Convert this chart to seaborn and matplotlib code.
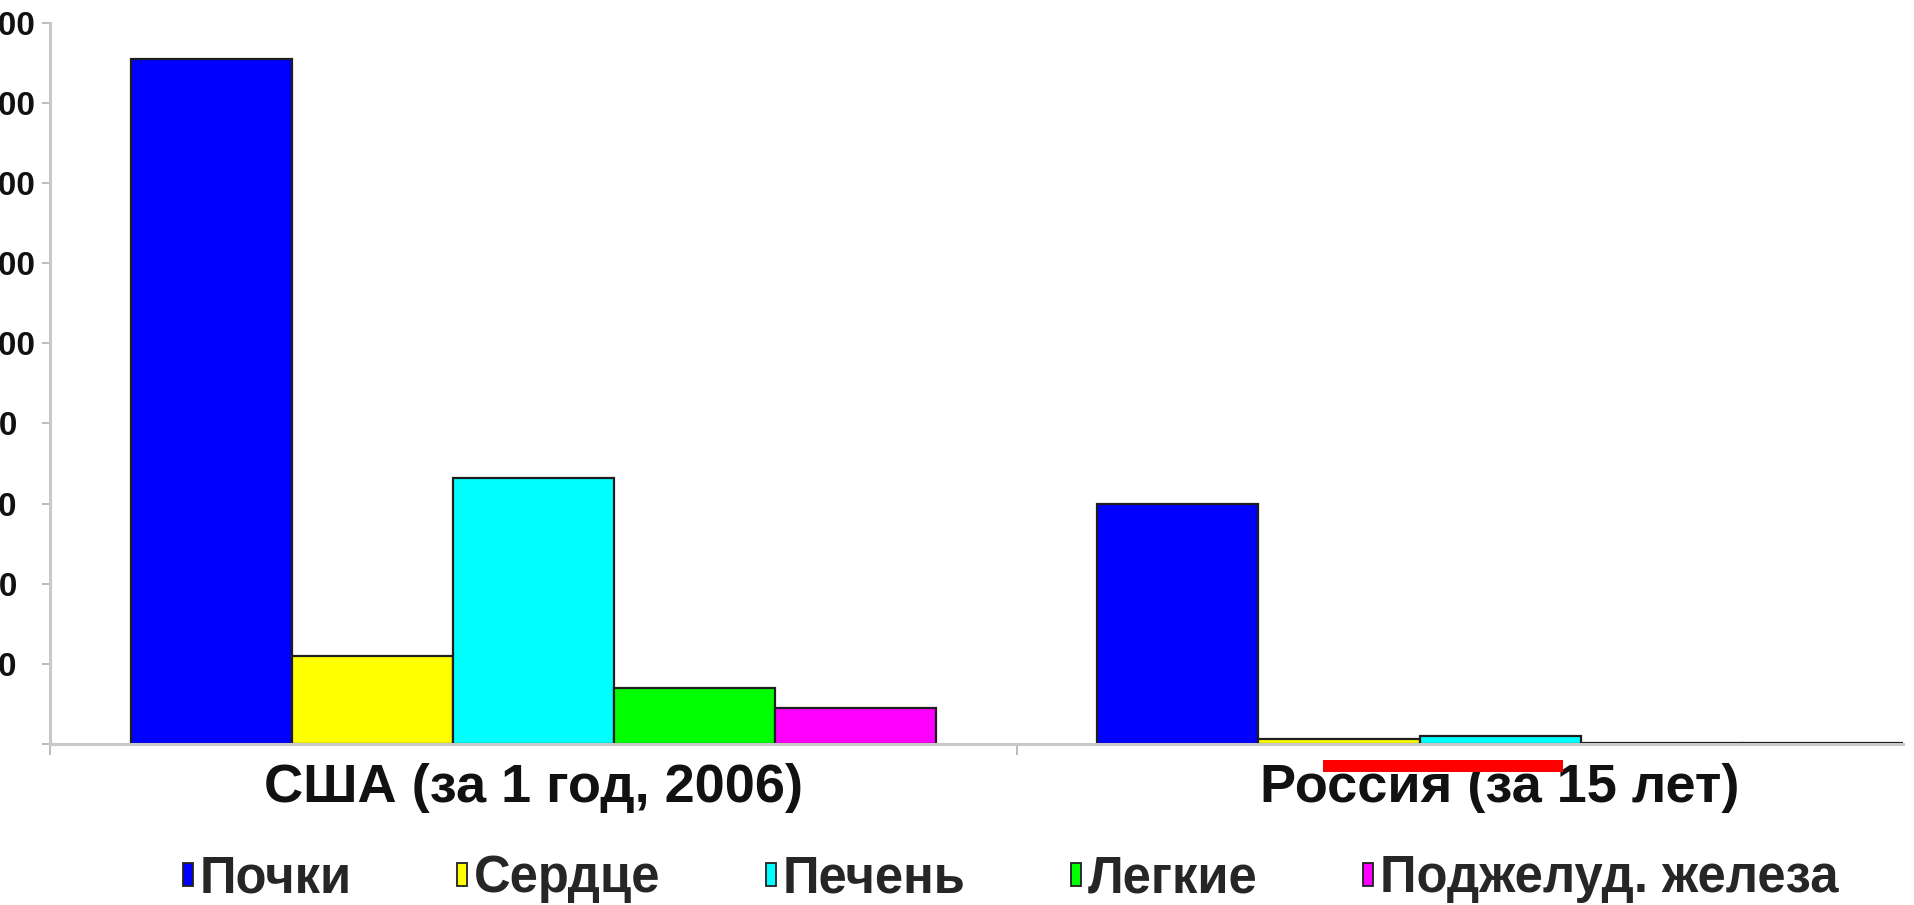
import matplotlib
matplotlib.use("Agg")
import matplotlib.pyplot as plt
from matplotlib.patches import Rectangle, Patch
import seaborn as sns
import pandas as pd

# Data: organ transplants, USA (one year, 2006) vs Russia (15 years)
countries = ["США (за 1 год, 2006)", "Россия (за 15 лет)"]
organs = ["Почки", "Сердце", "Печень", "Легкие", "Поджелуд. железа"]
usa_values = [17100, 2200, 6650, 1400, 900]
russia_values = [6000, 130, 210, 20, 20]
organ_colors = ["#0000FF", "#FFFF00", "#00FFFF", "#00FF00", "#FF00FF"]
y_ticks = [0, 2000, 4000, 6000, 8000, 10000, 12000, 14000, 16000, 18000]
y_tick_labels = [str(v) for v in y_ticks]

rows = []
for country, values in zip(countries, [usa_values, russia_values]):
    for organ, v in zip(organs, values):
        rows.append({"country": country, "organ": organ, "count": v})
df = pd.DataFrame(rows)

sns.set_theme(style="white")
plt.rcParams["font.family"] = ["Liberation Sans", "DejaVu Sans"]
plt.rcParams["font.weight"] = "bold"

W, H, DPI = 1915, 905, 100
fig = plt.figure(figsize=(W / DPI, H / DPI), dpi=DPI)
left_px, right_px, top_px, bottom_px = 50, 1903, 22.7, 744
ax = fig.add_axes([left_px / W, (H - bottom_px) / H,
                   (right_px - left_px) / W, (bottom_px - top_px) / H])

sns.barplot(data=df, x="country", y="count", hue="organ",
            order=countries, hue_order=organs, palette=organ_colors,
            width=5 / 6, gap=0, errorbar=None, edgecolor="#1e1e1e",
            linewidth=1.6, saturation=1, ax=ax)

ax.set_xlim(-0.5, 1 + 5 / 12)
ax.set_ylim(0, 18000)
ax.set_xlabel("")
ax.set_ylabel("")

for side in ["top", "right"]:
    ax.spines[side].set_visible(False)
for side in ["left", "bottom"]:
    ax.spines[side].set_color("#c8c8c8")
    ax.spines[side].set_linewidth(2.2)

# y axis: left-aligned labels pushed past the left edge
ax.set_yticks(y_ticks)
ax.set_yticklabels(y_tick_labels)
ax.tick_params(axis="y", which="major", direction="out", length=6,
               width=1.2, color="#b0b0b0", pad=71, labelsize=24, left=True)
for lbl in ax.get_yticklabels():
    lbl.set_horizontalalignment("left")
    lbl.set_fontweight("bold")
    lbl.set_color("#111111")

# x axis: category names centred, tick marks on category boundaries
ax.set_xticks([0, 1])
ax.set_xticklabels(countries)
ax.set_xticks([-0.5, 0.5], minor=True)
ax.tick_params(axis="x", which="major", length=0, pad=14, labelsize=39)
ax.tick_params(axis="x", which="minor", direction="out", length=8,
               width=1.2, color="#b0b0b0", bottom=True)
for lbl in ax.get_xticklabels():
    lbl.set_fontweight("bold")
    lbl.set_color("#111111")

# legend below the chart
if ax.get_legend() is not None:
    ax.get_legend().remove()
handles = [Patch(facecolor=c, edgecolor="#222222", linewidth=1.3)
           for c in organ_colors]
fig.legend(handles=handles, labels=organs, loc="center",
           bbox_to_anchor=(0.5277, 0.029), ncol=5, frameon=False,
           prop={"size": 36.5, "weight": "bold"},
           handlelength=0.2, handleheight=0.32, handletextpad=0.14,
           columnspacing=2.07, borderpad=0, borderaxespad=0)

# red underline highlight
fig.add_artist(Rectangle((1323 / W, (H - 772) / H), 240 / W, 12 / H,
                         transform=fig.transFigure, facecolor="#FF0000",
                         edgecolor="none"))

fig.savefig("out.png", dpi=DPI, facecolor="white")
